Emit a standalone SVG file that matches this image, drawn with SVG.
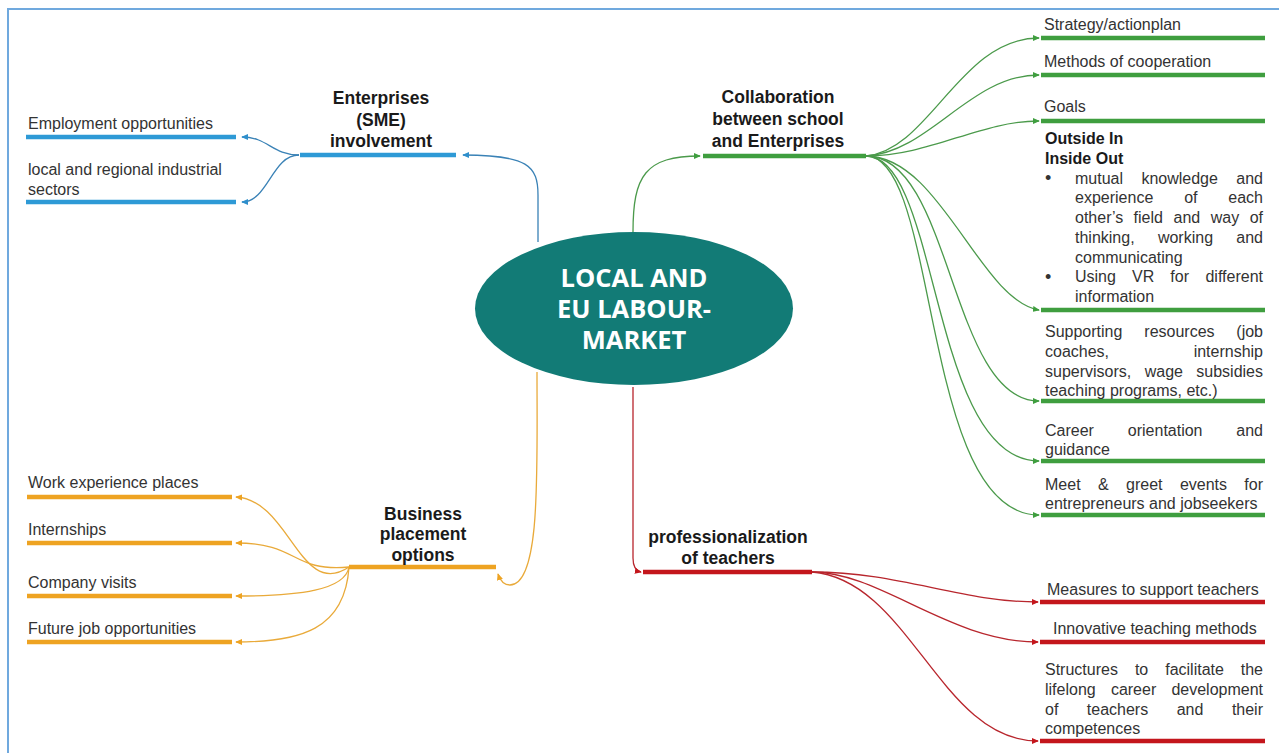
<svg xmlns="http://www.w3.org/2000/svg" width="1279" height="753" viewBox="0 0 1279 753">
<defs>
<style>
text{font-family:"Liberation Sans",Arial,sans-serif}
.t{font-size:16px;fill:#333}
.h{font-size:17.5px;font-weight:bold;fill:#1a1a1a;text-anchor:middle}
.c{font-family:"Open Sans","Liberation Sans",sans-serif;font-size:25.5px;font-weight:bold;fill:#fff;text-anchor:middle}
.e{text-anchor:end}
.b{font-weight:bold;fill:#1a1a1a}
.bu{font-size:18px}
.bar{fill:none;stroke-width:4.5;stroke-linecap:butt}
.con{fill:none;stroke-width:1.3}
.blue{stroke:#2e9ad6}.bluec{stroke:#3a82b6}
.green{stroke:#3f9e3f}.greenc{stroke:#4b9a4b}
.orange{stroke:#eea322}.orangec{stroke:#e9aa3a}
.red{stroke:#c4161c}.redc{stroke:#b8262d}
</style>
<marker id="mb" viewBox="0 0 8 8" refX="7" refY="4" markerWidth="7" markerHeight="7" markerUnits="userSpaceOnUse" orient="auto"><path d="M0,0.5 L8,4 L0,7.5 z" fill="#2e8fcc"/></marker>
<marker id="mg" viewBox="0 0 8 8" refX="7" refY="4" markerWidth="7" markerHeight="7" markerUnits="userSpaceOnUse" orient="auto"><path d="M0,0.5 L8,4 L0,7.5 z" fill="#3f9e3f"/></marker>
<marker id="mo" viewBox="0 0 8 8" refX="7" refY="4" markerWidth="7" markerHeight="7" markerUnits="userSpaceOnUse" orient="auto"><path d="M0,0.5 L8,4 L0,7.5 z" fill="#eea322"/></marker>
<marker id="mr" viewBox="0 0 8 8" refX="7" refY="4" markerWidth="7" markerHeight="7" markerUnits="userSpaceOnUse" orient="auto"><path d="M0,0.5 L8,4 L0,7.5 z" fill="#c4161c"/></marker>
</defs>
<rect x="0" y="0" width="1279" height="753" fill="#fff"/>
<rect x="8" y="9" width="1290" height="760" fill="none" stroke="#70a9de" stroke-width="2"/>

<g id="connectors">
<path class="con bluec" d="M538,242 L538,195 C538,166 528,155 463,155" marker-end="url(#mb)"/>
<path class="con bluec" d="M299,155 C272,155 268,137 242,137" marker-end="url(#mb)"/>
<path class="con bluec" d="M299,155 C272,155 268,202 242,202" marker-end="url(#mb)"/>
<path class="con greenc" d="M633,232 C633,176 645,156 700,156" marker-end="url(#mg)"/>
<path class="con greenc" d="M866,156 C930,150 960,38 1039,38" marker-end="url(#mg)"/>
<path class="con greenc" d="M866,156 C930,152 970,75 1039,75" marker-end="url(#mg)"/>
<path class="con greenc" d="M866,156 C930,156 980,121 1039,121" marker-end="url(#mg)"/>
<path class="con greenc" d="M866,156 C940,156 980,300 1039,310" marker-end="url(#mg)"/>
<path class="con greenc" d="M866,156 C952,156 950,401 1039,401" marker-end="url(#mg)"/>
<path class="con greenc" d="M866,156 C940,156 930,461 1039,461" marker-end="url(#mg)"/>
<path class="con greenc" d="M866,156 C940,156 920,515 1039,515" marker-end="url(#mg)"/>
<path class="con orangec" d="M537,372 C537,470 541,585 510,585 C503,585 500,580 498,574" marker-end="url(#mo)"/>
<path class="con orangec" d="M349,567 C300,600 290,500 236,497" marker-end="url(#mo)"/>
<path class="con orangec" d="M349,567 C290,572 300,543 236,543" marker-end="url(#mo)"/>
<path class="con orangec" d="M349,567 C345,590 300,596 236,596" marker-end="url(#mo)"/>
<path class="con orangec" d="M349,567 C345,630 300,642 236,642" marker-end="url(#mo)"/>
<path class="con redc" d="M633,387 L633,558 C633,567 636,571 641,572" marker-end="url(#mr)"/>
<path class="con redc" d="M812,572 C900,572 960,602 1038,602" marker-end="url(#mr)"/>
<path class="con redc" d="M812,572 C880,572 950,642 1038,642" marker-end="url(#mr)"/>
<path class="con redc" d="M812,572 C910,580 940,741 1038,741" marker-end="url(#mr)"/>
</g>

<g id="center">
<ellipse cx="634" cy="308.5" rx="159" ry="76.5" fill="#127b76"/>
<text class="c"><tspan x="634" y="287">LOCAL AND</tspan><tspan x="634" y="318">EU LABOUR-</tspan><tspan x="634" y="349">MARKET</tspan></text>
</g>

<g id="enterprises">
<line class="bar blue" x1="300" y1="155" x2="456" y2="155"/>
<text class="h"><tspan x="381" y="104">Enterprises</tspan><tspan x="381" y="126">(SME)</tspan><tspan x="381" y="147">involvement</tspan></text>
</g>
<g id="employment">
<line class="bar blue" x1="26" y1="137" x2="236" y2="137"/>
<text class="t" x="28" y="129">Employment opportunities</text>
</g>
<g id="sectors">
<line class="bar blue" x1="26" y1="202" x2="236" y2="202"/>
<text class="t"><tspan x="28" y="175">local and regional industrial</tspan><tspan x="28" y="194.5">sectors</tspan></text>
</g>

<g id="collaboration">
<line class="bar green" x1="703" y1="156" x2="866" y2="156"/>
<text class="h"><tspan x="778" y="103">Collaboration</tspan><tspan x="778" y="125">between school</tspan><tspan x="778" y="147">and Enterprises</tspan></text>
</g>
<g id="strategy">
<line class="bar green" x1="1041" y1="38" x2="1265" y2="38"/>
<text class="t" x="1044" y="30">Strategy/actionplan</text>
</g>
<g id="methods">
<line class="bar green" x1="1041" y1="75" x2="1265" y2="75"/>
<text class="t" x="1044" y="67">Methods of cooperation</text>
</g>
<g id="goals">
<line class="bar green" x1="1041" y1="121" x2="1265" y2="121"/>
<text class="t" x="1044" y="112">Goals</text>
</g>
<g id="outside-in">
<line class="bar green" x1="1041" y1="310" x2="1265" y2="310"/>
<text class="t"><tspan class="b" x="1045" y="144">Outside In</tspan><tspan class="b" x="1045" y="163.75">Inside Out</tspan><tspan class="bu" x="1045" y="184">•</tspan><tspan x="1075" y="183.5">mutual</tspan><tspan x="1141.4" y="183.5">knowledge</tspan><tspan class="e" x="1263" y="183.5">and</tspan><tspan x="1075" y="203.25">experience</tspan><tspan x="1184.2" y="203.25">of</tspan><tspan class="e" x="1263" y="203.25">each</tspan><tspan x="1075" y="223">other’s</tspan><tspan x="1133.6" y="223">field</tspan><tspan x="1173.5" y="223">and</tspan><tspan x="1210.8" y="223">way</tspan><tspan class="e" x="1263" y="223">of</tspan><tspan x="1075" y="242.75">thinking,</tspan><tspan x="1157.9" y="242.75">working</tspan><tspan class="e" x="1263" y="242.75">and</tspan><tspan x="1075" y="262.5">communicating</tspan><tspan class="bu" x="1045" y="282.75">•</tspan><tspan x="1075" y="282.25">Using</tspan><tspan x="1132" y="282.25">VR</tspan><tspan x="1170.3" y="282.25">for</tspan><tspan class="e" x="1263" y="282.25">different</tspan><tspan x="1075" y="302">information</tspan></text>
</g>
<g id="supporting">
<line class="bar green" x1="1041" y1="401" x2="1265" y2="401"/>
<text class="t"><tspan x="1045" y="337">Supporting</tspan><tspan x="1144.3" y="337">resources</tspan><tspan class="e" x="1263" y="337">(job</tspan><tspan x="1045" y="356.75">coaches,</tspan><tspan class="e" x="1263" y="356.75">internship</tspan><tspan x="1045" y="376.5">supervisors,</tspan><tspan x="1144.7" y="376.5">wage</tspan><tspan class="e" x="1263" y="376.5">subsidies</tspan><tspan x="1045" y="396.25">teaching programs, etc.)</tspan></text>
</g>
<g id="career">
<line class="bar green" x1="1041" y1="461" x2="1265" y2="461"/>
<text class="t"><tspan x="1045" y="435.5">Career</tspan><tspan x="1127.8" y="435.5">orientation</tspan><tspan class="e" x="1263" y="435.5">and</tspan><tspan x="1045" y="455.25">guidance</tspan></text>
</g>
<g id="meet">
<line class="bar green" x1="1041" y1="515" x2="1265" y2="515"/>
<text class="t"><tspan x="1045" y="489.5">Meet</tspan><tspan x="1098" y="489.5">&amp;</tspan><tspan x="1126" y="489.5">greet</tspan><tspan x="1179.9" y="489.5">events</tspan><tspan class="e" x="1263" y="489.5">for</tspan><tspan x="1045" y="509.25">entrepreneurs and jobseekers</tspan></text>
</g>

<g id="business">
<line class="bar orange" x1="349" y1="567" x2="496" y2="567"/>
<text class="h"><tspan x="423" y="519.5">Business</tspan><tspan x="423" y="540">placement</tspan><tspan x="423" y="560.5">options</tspan></text>
</g>
<g id="work">
<line class="bar orange" x1="27" y1="497" x2="232" y2="497"/>
<text class="t" x="28" y="488">Work experience places</text>
</g>
<g id="internships">
<line class="bar orange" x1="27" y1="543" x2="232" y2="543"/>
<text class="t" x="28" y="535">Internships</text>
</g>
<g id="visits">
<line class="bar orange" x1="27" y1="596" x2="232" y2="596"/>
<text class="t" x="28" y="588">Company visits</text>
</g>
<g id="future">
<line class="bar orange" x1="27" y1="642" x2="232" y2="642"/>
<text class="t" x="28" y="634">Future job opportunities</text>
</g>

<g id="professionalization">
<line class="bar red" x1="643" y1="572" x2="812" y2="572"/>
<text class="h"><tspan x="728" y="543">professionalization</tspan><tspan x="728" y="564">of teachers</tspan></text>
</g>
<g id="measures">
<line class="bar red" x1="1040" y1="602" x2="1265" y2="602"/>
<text class="t" x="1047" y="595">Measures to support teachers</text>
</g>
<g id="innovative">
<line class="bar red" x1="1040" y1="642" x2="1265" y2="642"/>
<text class="t" x="1053" y="634">Innovative teaching methods</text>
</g>
<g id="structures">
<line class="bar red" x1="1040" y1="741" x2="1265" y2="741"/>
<text class="t"><tspan x="1045" y="675">Structures</tspan><tspan x="1134.9" y="675">to</tspan><tspan x="1165.2" y="675">facilitate</tspan><tspan class="e" x="1263" y="675">the</tspan><tspan x="1045" y="694.75">lifelong</tspan><tspan x="1110.9" y="694.75">career</tspan><tspan class="e" x="1263" y="694.75">development</tspan><tspan x="1045" y="714.5">of</tspan><tspan x="1086.8" y="714.5">teachers</tspan><tspan x="1176.7" y="714.5">and</tspan><tspan class="e" x="1263" y="714.5">their</tspan><tspan x="1045" y="734.25">competences</tspan></text>
</g>
</svg>
